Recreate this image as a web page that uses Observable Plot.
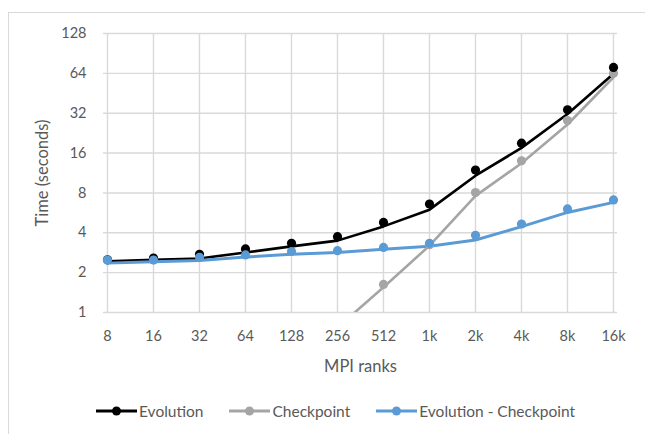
<!DOCTYPE html>
<html>
<head>
<meta charset="utf-8">
<script src="https://cdn.jsdelivr.net/npm/d3@7"></script>
<script src="https://cdn.jsdelivr.net/npm/@observablehq/plot@0.6"></script>
<style>
  html, body { margin: 0; padding: 0; background: #fff; }
  body { width: 645px; height: 434px; position: relative; overflow: hidden; font-family: Lato, "Open Sans", sans-serif; }
  #frame { position: absolute; left: 8px; top: 12px; width: 700px; height: 500px; border-top: 1px solid #d9d9d9; border-left: 1px solid #d9d9d9; }
  #chart { position: absolute; left: 0; top: 0; }
  #legend { position: absolute; left: 96px; top: 402px; display: flex; align-items: center; font-size: 15.5px; color: #595959; }
  .item { display: flex; align-items: center; margin-right: 26px; }
  .item svg { margin-right: 2px; }
</style>
</head>
<body>
<div id="frame"></div>
<div id="chart"></div>
<div id="legend"></div>
<script>
// MPI rank counts along the x axis
const ranks = ["8", "16", "32", "64", "128", "256", "512", "1k", "2k", "4k", "8k", "16k"];

// Measured times (seconds)
const evolution  = [2.5, 2.58, 2.75, 3.02, 3.33, 3.74, 4.79, 6.6, 11.9, 19.0, 34.0, 71.0];
const checkpoint = [null, null, null, null, null, null, 1.63, 3.25, 8.05, 14.0, 28.2, 64.0];
const difference = [2.49, 2.49, 2.61, 2.72, 2.89, 2.93, 3.10, 3.33, 3.83, 4.66, 6.06, 7.08];

// Modelled times (seconds), drawn as lines
const evolutionFit  = [2.44, 2.50, 2.56, 2.84, 3.16, 3.49, 4.47, 5.98, 10.8, 17.5, 31.6, 63.6];
const checkpointFit = [null, null, null, null, null, 0.77, 1.55, 3.2, 7.6, 13.4, 26.3, 59.8];
const differenceFit = [2.36, 2.42, 2.47, 2.62, 2.75, 2.84, 3.0, 3.16, 3.53, 4.45, 5.70, 6.79];

const yTicks = [1, 2, 4, 8, 16, 32, 64, 128];

const seriesNames = ["Evolution", "Checkpoint", "Evolution - Checkpoint"];
const seriesColors = ["#000000", "#a5a5a5", "#5b9bd5"];

function rows(values) {
  return ranks.map((r, i) => ({rank: r, value: values[i]})).filter(d => d.value != null);
}

const grid = "#d9d9d9";

const chart = Plot.plot({
  width: 645,
  height: 385,
  marginLeft: 103,
  marginRight: 28,
  marginTop: 33,
  marginBottom: 73,
  style: {fontFamily: "Lato, 'Open Sans', sans-serif", fontSize: "14.5px", color: "#595959", background: "transparent"},
  x: {type: "point", domain: ranks, padding: 0, label: null},
  y: {type: "log", base: 2, domain: [1, 128], label: null},
  marks: [
    Plot.gridX(ranks, {stroke: grid, strokeOpacity: 1, strokeWidth: 1.4}),
    Plot.gridY(yTicks, {stroke: grid, strokeOpacity: 1, strokeWidth: 1.4}),
    Plot.axisX(ranks, {tickSize: 0, tickPadding: 18, fontSize: 14.5, label: "MPI ranks", labelAnchor: "center", labelOffset: 59, labelArrow: "none"}),
    Plot.axisY(yTicks, {tickSize: 0, tickPadding: 17, fontSize: 14.5, tickFormat: d => d, label: "Time (seconds)", labelAnchor: "center", labelOffset: 67, labelArrow: "none"}),
    Plot.lineY(rows(evolutionFit), {x: "rank", y: "value", stroke: seriesColors[0], strokeWidth: 2.6, clip: true}),
    Plot.lineY(rows(checkpointFit), {x: "rank", y: "value", stroke: seriesColors[1], strokeWidth: 2.6, clip: true}),
    Plot.lineY(rows(differenceFit), {x: "rank", y: "value", stroke: seriesColors[2], strokeWidth: 3, clip: true}),
    Plot.dot(rows(checkpoint), {x: "rank", y: "value", r: 4.6, fill: seriesColors[1]}),
    Plot.dot(rows(evolution), {x: "rank", y: "value", r: 4.6, fill: seriesColors[0]}),
    Plot.dot(rows(difference), {x: "rank", y: "value", r: 4.6, fill: seriesColors[2]})
  ]
});
chart.querySelectorAll("[aria-label='x-axis label'] text, [aria-label='y-axis label'] text").forEach(t => t.setAttribute("font-size", "16.5"));
document.getElementById("chart").appendChild(chart);

// Legend: line-with-marker swatch followed by series name
const legend = document.getElementById("legend");
seriesNames.forEach((name, i) => {
  const item = document.createElement("div");
  item.className = "item";
  item.innerHTML =
    `<svg width="41" height="12"><line x1="0" x2="41" y1="6" y2="6" stroke="${seriesColors[i]}" stroke-width="3"/>` +
    `<circle cx="20.5" cy="6" r="4.5" fill="${seriesColors[i]}"/></svg><span>${name}</span>`;
  legend.appendChild(item);
});
</script>
</body>
</html>
